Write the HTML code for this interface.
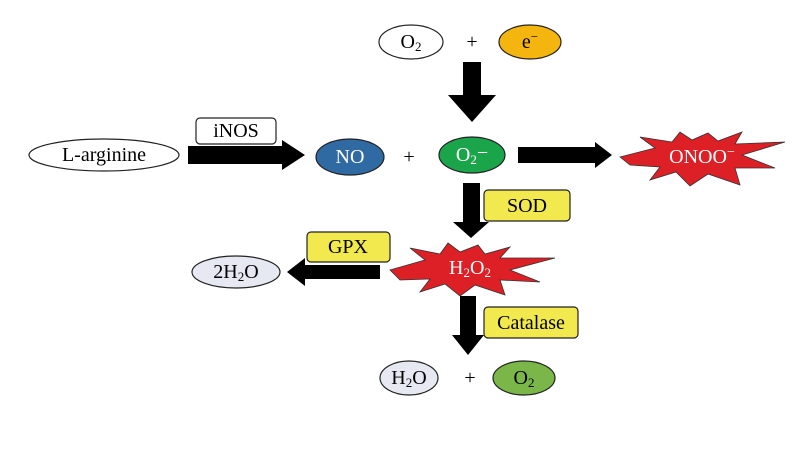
<!DOCTYPE html>
<html><head><meta charset="utf-8"><style>
html,body{margin:0;padding:0;background:#fff}
svg{display:block}
text{font-family:"Liberation Serif",serif;font-size:20px;text-anchor:middle;dominant-baseline:central}
</style></head><body>
<svg width="800" height="450" viewBox="0 0 800 450">
<g stroke="#222" stroke-width="1.2">
<ellipse cx="411" cy="42" rx="32" ry="17" fill="#fff"/>
<ellipse cx="530" cy="42" rx="31" ry="17" fill="#f5b50f"/>
<ellipse cx="104" cy="155" rx="75" ry="16" fill="#fff"/>
<ellipse cx="350" cy="157" rx="34" ry="18" fill="#2f6aa3"/>
<ellipse cx="472" cy="155" rx="33" ry="18" fill="#1aa54a"/>
<ellipse cx="236" cy="272" rx="44" ry="16" fill="#e6e8f2"/>
<ellipse cx="409" cy="378" rx="29" ry="17" fill="#e6e8f2"/>
<ellipse cx="524" cy="378" rx="31" ry="17" fill="#7ab648"/>
<rect x="196" y="118" width="80" height="26" rx="4" fill="#fff"/>
<rect x="484" y="190" width="86" height="31" rx="4" fill="#f2e94e"/>
<rect x="307" y="232" width="83" height="30" rx="4" fill="#f2e94e"/>
<rect x="484" y="307" width="94" height="31" rx="4" fill="#f2e94e"/>
</g>
<g fill="#dd1f26" stroke="#333" stroke-width="0.8">
<polygon points="620,157 655,148 640,137 672,142 680,132 692,140 708,133 718,141 742,132 735,144 785,142 742,155 775,168 735,168 740,185 708,174 690,186 676,172 650,180 660,167 630,165"/>
<polygon points="390,270 425,260 410,248 440,254 448,243 460,252 478,245 485,254 510,247 500,258 555,258 510,270 540,282 500,280 505,295 475,285 460,296 445,284 420,292 430,279 400,280"/>
</g>
<g fill="#000">
<polygon points="463,62 481,62 481,95 496,95 472,122 448,95 463,95"/>
<polygon points="188,146 282,146 282,140 305,155 282,170 282,164 188,164"/>
<polygon points="518,147 595,147 595,142 612,155 595,168 595,163 518,163"/>
<polygon points="463,183 480,183 480,222 489,222 471,238 453,222 463,222"/>
<polygon points="380,265 305,265 305,258 287,272 305,286 305,279 380,279"/>
<polygon points="460,296 476,296 476,335 484,335 468,355 452,335 460,335"/>
</g>
<text x="411" y="42">O<tspan font-size="13" dy="4">2</tspan></text>
<text x="472" y="42" font-size="22">+</text>
<text x="530" y="42">e<tspan font-size="13" dy="-6">−</tspan></text>
<text x="104" y="155">L-arginine</text>
<text x="236" y="131">iNOS</text>
<text x="350" y="157" fill="#fff">NO</text>
<text x="409" y="157" font-size="22">+</text>
<text x="472" y="155" fill="#fff">O<tspan font-size="13" dy="4">2</tspan><tspan dy="-6">−</tspan></text>
<text x="702" y="157" fill="#fff">ONOO<tspan font-size="14" dy="-5">−</tspan></text>
<text x="527" y="206">SOD</text>
<text x="348" y="247">GPX</text>
<text x="470" y="268" fill="#fff">H<tspan font-size="13" dy="4">2</tspan><tspan dy="-4">O</tspan><tspan font-size="13" dy="4">2</tspan></text>
<text x="236" y="272">2H<tspan font-size="13" dy="4">2</tspan><tspan dy="-4">O</tspan></text>
<text x="531" y="323">Catalase</text>
<text x="409" y="378">H<tspan font-size="13" dy="4">2</tspan><tspan dy="-4">O</tspan></text>
<text x="470" y="378" font-size="22">+</text>
<text x="524" y="378">O<tspan font-size="13" dy="4">2</tspan></text>
</svg>
</body></html>
